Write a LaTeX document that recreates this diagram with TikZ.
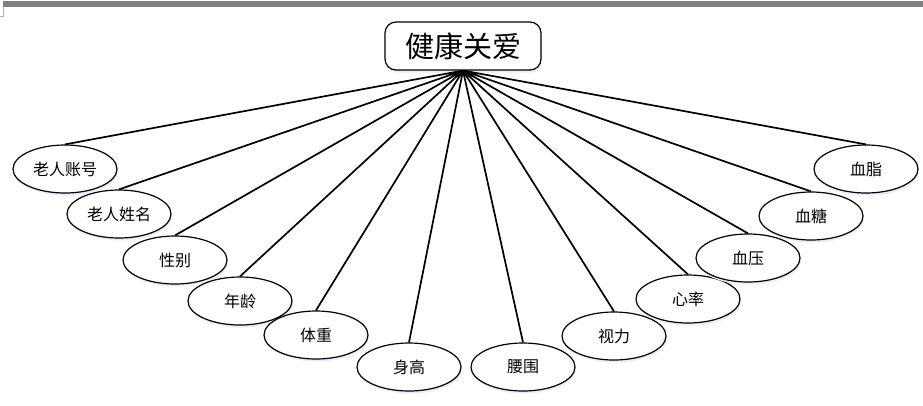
\documentclass[tikz,border=0pt]{standalone}
\usepackage{fontspec}
\newfontfamily\cjk{Noto Sans CJK SC}
\usetikzlibrary{shapes.geometric, shadows}
\tikzset{
	x=1pt, y=-1pt,
	line/.style={line width=1.7pt, black},
	attr/.style={ellipse, draw=black, line width=1.2pt, fill=white,
		minimum width=104pt, minimum height=48pt, inner sep=0pt,
		font=\cjk\fontsize{16}{16}\selectfont,
		general shadow={fill=blue!8, shadow xshift=1pt, shadow yshift=-2.5pt}},
	entity/.style={rectangle, rounded corners=11pt, draw=black, line width=1.2pt, fill=white,
		minimum width=156pt, minimum height=48pt, inner sep=0pt,
		font=\cjk\fontsize{29}{29}\selectfont,
		general shadow={fill=blue!8, shadow xshift=1pt, shadow yshift=-2.5pt}},
}
\begin{document}
\begin{tikzpicture}
	\useasboundingbox (0,0) rectangle (923,405);
	% top bar
	\fill[gray] (3,1) rectangle (923,7);
	\draw[gray!60, line width=0.6pt] (3,7) -- (3,16.5) -- (0,16.5);

	\node[entity] (root) at (463,46) {健康关爱};

	\node[attr] (zhanghao) at (65,169) {老人账号};
	\node[attr] (xingming) at (119,214) {老人姓名};
	\node[attr] (xingbie) at (175,260) {性别};
	\node[attr] (nianling) at (240,301) {年龄};
	\node[attr] (tizhong) at (316,335) {体重};
	\node[attr] (shengao) at (409,367) {身高};
	\node[attr] (yaowei) at (523,367) {腰围};
	\node[attr] (shili) at (614,336) {视力};
	\node[attr] (xinlv) at (688,299) {心率};
	\node[attr] (xueya) at (748,258) {血压};
	\node[attr] (xuetang) at (811,216) {血糖};
	\node[attr] (xuezhi) at (866,169) {血脂};

	\draw[line]
		(root.south) -- (zhanghao.north)
		(root.south) -- (xingming.north)
		(root.south) -- (xingbie.north)
		(root.south) -- (nianling.north)
		(root.south) -- (tizhong.north)
		(root.south) -- (shengao.north)
		%
		(root.south) -- (yaowei.north)
		(root.south) -- (shili.north)
		(root.south) -- (xinlv.north)
		(root.south) -- (xueya.north)
		(root.south) -- (xuetang.north)
		(root.south) -- (xuezhi.north)
	;
\end{tikzpicture}
\end{document}
